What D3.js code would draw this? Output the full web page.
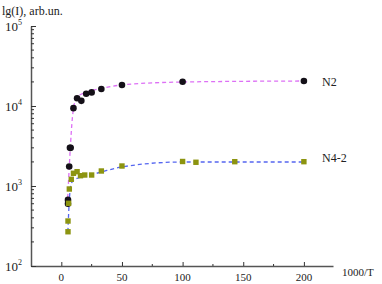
<!DOCTYPE html>
<html>
<head>
<meta charset="utf-8">
<script src="https://cdn.jsdelivr.net/npm/d3@7"></script>
<style>
  body { margin: 0; background: #fff; }
  text { font-family: "Liberation Serif", "DejaVu Serif", serif; fill: #222; }
</style>
</head>
<body>
<div id="chart"></div>
<script>
// measured points, 1000/T vs intensity
var n2X = [5.5, 5.5, 6.5, 7.1, 7.7, 10, 13, 16.5, 20.5, 25, 33, 50, 100, 200];
var n2Y = [600, 670, 1750, 3000, 3000, 9400, 12500, 11600, 14200, 14800, 16300, 18300, 20100, 20500];

var n4X = [5.5, 5.5, 6, 6.6, 8.2, 10, 13, 15.8, 19.3, 25, 33, 50, 100, 111, 143, 200];
var n4Y = [268, 365, 608, 917, 1213, 1442, 1510, 1345, 1372, 1372, 1540, 1778, 2025, 1980, 2013, 2013];

// dashed fit curves
var fitN2X = [4.95, 6.2, 7.4, 9.1, 10.7, 13.2, 19.8, 33, 49.5, 99.8, 199.5];
var fitN2Y = [579, 1372, 2985, 7080, 10600, 12960, 14750, 16550, 18300, 19950, 20540];
var fitN4X = [5.4, 6.6, 7.8, 9.9, 14, 22.3, 33, 49.5, 99.8, 199.5];
var fitN4Y = [266, 668, 1030, 1172, 1259, 1353, 1496, 1728, 1995, 1995];

var xTicks = [0, 50, 100, 150, 200];
var yTicks = [100, 1000, 10000, 100000];
var yTickExp = ["2", "3", "4", "5"];

var svgWidth = 382, svgHeight = 284;
var margin = {top: 26, right: 49, bottom: 18, left: 31};
var width = svgWidth - margin.left - margin.right;
var height = svgHeight - margin.top - margin.bottom;

var svg = d3.select("#chart").append("svg")
  .attr("width", svgWidth)
  .attr("height", svgHeight);

var g = svg.append("g")
  .attr("transform", `translate(${margin.left}, ${margin.top})`);

var x = d3.scaleLinear().domain([-25, 224]).range([0, width]);
var y = d3.scaleLog().domain([100, 100000]).range([height, 0]);

// x axis, ticks pointing inward
var xAxis = g.append("g")
  .attr("transform", `translate(0, ${height})`)
  .call(d3.axisBottom(x).tickValues(xTicks).tickSizeInner(-4).tickSizeOuter(0).tickFormat(""));
xAxis.append("g").selectAll("line")
  .data([25, 75, 125, 175])
  .enter().append("line")
  .attr("x1", d => x(d)).attr("x2", d => x(d))
  .attr("y1", 0).attr("y2", -2)
  .attr("stroke", "#333");
xAxis.selectAll("path.domain").attr("stroke", "#555").attr("stroke-width", 1.5);
xAxis.selectAll(".tick line").attr("stroke", "#333");

g.selectAll(".xlab")
  .data(xTicks)
  .enter().append("text")
  .attr("x", d => x(d))
  .attr("y", height + 15)
  .attr("text-anchor", "middle")
  .style("font-size", "11px")
  .text(d => d);

// y axis with log minor ticks
var minor = [];
[100, 1000, 10000].forEach(function(b) {
  for (var k = 2; k <= 9; k++) minor.push(b * k);
});
var yAxis = g.append("g")
  .call(d3.axisLeft(y).tickValues(yTicks).tickSizeInner(-5).tickSizeOuter(0).tickFormat(""));
yAxis.selectAll("path.domain").attr("stroke", "#555").attr("stroke-width", 1.5);
yAxis.selectAll(".tick line").attr("stroke", "#333");
yAxis.append("g").selectAll("line")
  .data(minor)
  .enter().append("line")
  .attr("x1", 0).attr("x2", 3)
  .attr("y1", d => y(d)).attr("y2", d => y(d))
  .attr("stroke", "#333");

var ylab = g.selectAll(".ylab")
  .data(yTicks)
  .enter().append("text")
  .attr("x", -9)
  .attr("y", d => y(d) + 5)
  .attr("text-anchor", "end")
  .style("font-size", "13px");
ylab.append("tspan").text("10");
ylab.append("tspan")
  .attr("dy", -6)
  .style("font-size", "8px")
  .text((d, i) => yTickExp[i]);

// fitted dashed curves
var line = d3.line()
  .x(d => x(d[0]))
  .y(d => y(d[1]))
  .curve(d3.curveMonotoneX);

g.append("path")
  .datum(fitN2X.map((v, i) => [v, fitN2Y[i]]))
  .attr("d", line)
  .attr("fill", "none")
  .attr("stroke", "#dd70f5")
  .attr("stroke-width", 1.3)
  .attr("stroke-dasharray", "4,3");

g.append("path")
  .datum(fitN4X.map((v, i) => [v, fitN4Y[i]]))
  .attr("d", line)
  .attr("fill", "none")
  .attr("stroke", "#5566f0")
  .attr("stroke-width", 1.3)
  .attr("stroke-dasharray", "4,3");

// points
g.selectAll(".n2")
  .data(n2X.map((v, i) => [v, n2Y[i]]))
  .enter().append("circle")
  .attr("cx", d => x(d[0]))
  .attr("cy", d => y(d[1]))
  .attr("r", 3.3)
  .attr("fill", "#141018");

g.selectAll(".n4")
  .data(n4X.map((v, i) => [v, n4Y[i]]))
  .enter().append("rect")
  .attr("x", d => x(d[0]) - 2.7)
  .attr("y", d => y(d[1]) - 2.7)
  .attr("width", 5.4)
  .attr("height", 5.4)
  .attr("fill", "#8c9410");

// series labels
svg.append("text").attr("x", 322).attr("y", 86).style("font-size", "12px").text("N2");
svg.append("text").attr("x", 322).attr("y", 162).style("font-size", "12px").text("N4-2");

// axis titles
svg.append("text").attr("x", 2).attr("y", 15).style("font-size", "12px").text("lg(I), arb.un.");
svg.append("text").attr("x", 342).attr("y", 276).style("font-size", "11px").text("1000/T");
</script>
</body>
</html>
